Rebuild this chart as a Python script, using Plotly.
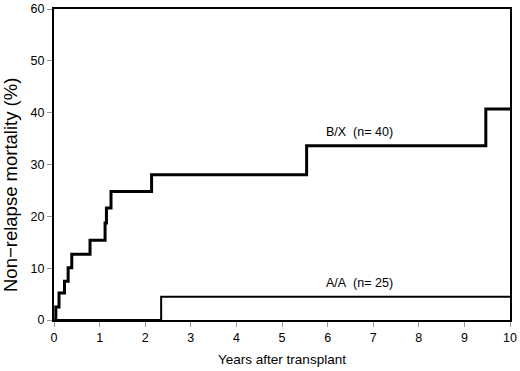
import plotly.graph_objects as go

# Data (cumulative non-relapse mortality, %)
bx_years = [0, 0.04, 0.11, 0.23, 0.31, 0.39, 0.79, 1.12, 1.15, 1.25, 2.14, 5.54, 9.47, 10]
bx_nrm = [0, 2.5, 5.2, 7.5, 10.1, 12.7, 15.4, 18.7, 21.6, 24.8, 28.0, 33.6, 40.7, 40.7]
aa_years = [0, 2.35, 10]
aa_nrm = [0, 4.5, 4.5]

labels = ["B/X\u00a0\u00a0(n=\u00a040)", "A/A\u00a0\u00a0(n=\u00a025)"]
label_x = [6.71, 6.71]
label_y = [36.3, 7.2]

x_ticks = list(range(0, 11))
y_ticks = [0, 10, 20, 30, 40, 50, 60]
y_title = "Non\u2212relapse mortality (%)"

fig = go.Figure()
fig.add_trace(go.Scatter(x=aa_years, y=aa_nrm, mode="lines", line=dict(shape="hv", color="black", width=2),
                         showlegend=False, cliponaxis=False))
fig.add_trace(go.Scatter(x=bx_years, y=bx_nrm, mode="lines", line=dict(shape="hv", color="black", width=3),
                         showlegend=False, cliponaxis=False))

for t, xx, yy in zip(labels, label_x, label_y):
    fig.add_annotation(x=xx, y=yy, text=t, showarrow=False, font=dict(size=12.5, color="black"))

# y-axis title placed as a rotated annotation (sits a little below the plot centre in the reference)
fig.add_annotation(xref="paper", yref="paper", x=-44 / 456, y=1 - (185 - 9) / 311, text=y_title,
                   textangle=-90, showarrow=False, xanchor="center", yanchor="middle",
                   font=dict(size=18.5, color="black"))

font_family = "Liberation Sans, Arial, sans-serif"
fig.update_layout(
    width=520, height=371,
    margin=dict(l=54, r=10, t=9, b=51),
    paper_bgcolor="white", plot_bgcolor="white",
    font=dict(family=font_family, color="black", size=12.5),
    xaxis=dict(range=[0, 10], tickvals=x_ticks, ticks="outside", ticklen=5, tickcolor="#999",
               showline=True, linecolor="black", linewidth=2, mirror=True, showgrid=False, zeroline=False,
               tickfont=dict(size=12.5), automargin=False,
               title=dict(text="Years after transplant", font=dict(size=13.5), standoff=11)),
    yaxis=dict(range=[0, 60], tickvals=y_ticks, ticks="outside", ticklen=5, tickcolor="#999",
               showline=True, linecolor="black", linewidth=2, mirror=True, showgrid=False, zeroline=False,
               tickfont=dict(size=12.5), automargin=False),
)

fig.write_html("out.html", config={"displayModeBar": False},
               post_script="document.body.style.margin='0';document.body.style.overflow='hidden';")
